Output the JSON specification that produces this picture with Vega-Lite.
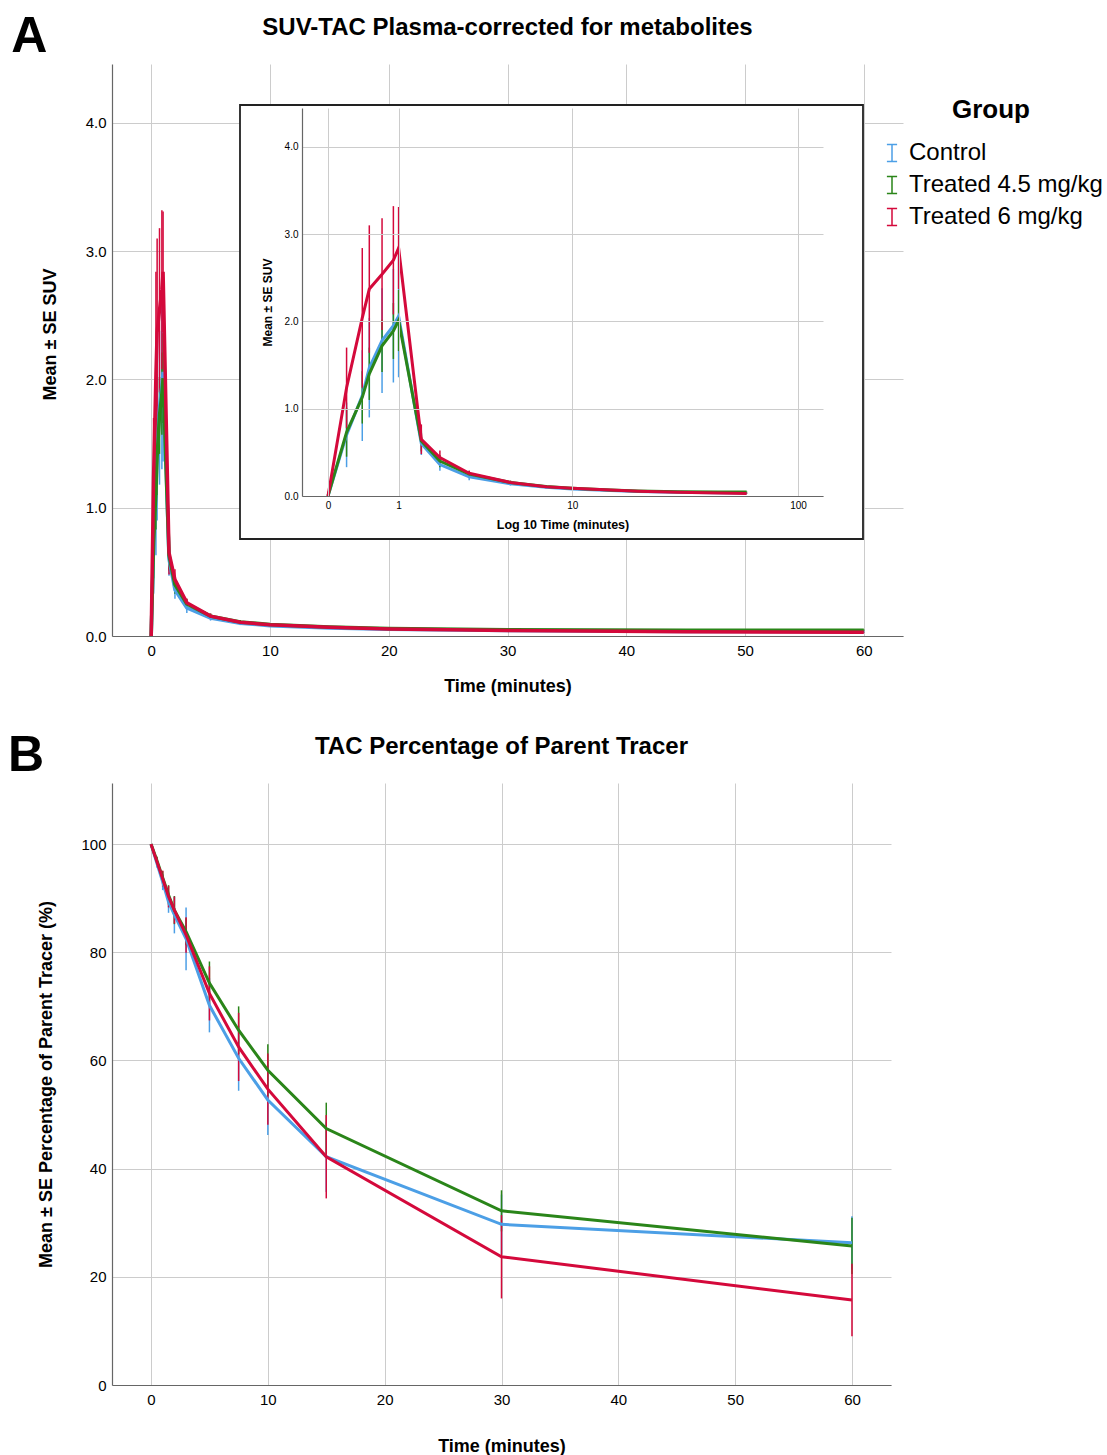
{
  "$schema": "https://vega.github.io/schema/vega-lite/v6.json",
  "background": "white",
  "padding": {"left": 7, "top": 11, "right": 0, "bottom": 0},
  "datasets": {
    "suv": [
      {"group": "Control", "t": 0, "mean": 0, "se": 0},
      {"group": "Control", "t": 0.2, "mean": 0.70, "se": 0.37},
      {"group": "Control", "t": 0.4, "mean": 1.15, "se": 0.52},
      {"group": "Control", "t": 0.5, "mean": 1.47, "se": 0.57},
      {"group": "Control", "t": 0.7, "mean": 1.78, "se": 0.60},
      {"group": "Control", "t": 0.9, "mean": 1.95, "se": 0.65},
      {"group": "Control", "t": 1, "mean": 2.06, "se": 0.70},
      {"group": "Control", "t": 1.5, "mean": 0.60, "se": 0.13},
      {"group": "Control", "t": 2, "mean": 0.36, "se": 0.07},
      {"group": "Control", "t": 3, "mean": 0.22, "se": 0.04},
      {"group": "Control", "t": 5, "mean": 0.14, "se": 0.02},
      {"group": "Control", "t": 7.5, "mean": 0.10, "se": 0.015},
      {"group": "Control", "t": 10, "mean": 0.08, "se": 0.01},
      {"group": "Control", "t": 15, "mean": 0.062, "se": 0.008},
      {"group": "Control", "t": 20, "mean": 0.052, "se": 0.006},
      {"group": "Control", "t": 30, "mean": 0.042, "se": 0.005},
      {"group": "Control", "t": 45, "mean": 0.036, "se": 0.004},
      {"group": "Control", "t": 60, "mean": 0.033, "se": 0.004},
      {"group": "Treated 4.5 mg/kg", "t": 0, "mean": 0, "se": 0},
      {"group": "Treated 4.5 mg/kg", "t": 0.2, "mean": 0.73, "se": 0.28},
      {"group": "Treated 4.5 mg/kg", "t": 0.4, "mean": 1.13, "se": 0.30},
      {"group": "Treated 4.5 mg/kg", "t": 0.5, "mean": 1.40, "se": 0.30},
      {"group": "Treated 4.5 mg/kg", "t": 0.7, "mean": 1.72, "se": 0.30},
      {"group": "Treated 4.5 mg/kg", "t": 0.9, "mean": 1.89, "se": 0.32},
      {"group": "Treated 4.5 mg/kg", "t": 1, "mean": 2.01, "se": 0.35},
      {"group": "Treated 4.5 mg/kg", "t": 1.5, "mean": 0.63, "se": 0.12},
      {"group": "Treated 4.5 mg/kg", "t": 2, "mean": 0.40, "se": 0.07},
      {"group": "Treated 4.5 mg/kg", "t": 3, "mean": 0.25, "se": 0.04},
      {"group": "Treated 4.5 mg/kg", "t": 5, "mean": 0.155, "se": 0.02},
      {"group": "Treated 4.5 mg/kg", "t": 7.5, "mean": 0.11, "se": 0.015},
      {"group": "Treated 4.5 mg/kg", "t": 10, "mean": 0.09, "se": 0.01},
      {"group": "Treated 4.5 mg/kg", "t": 15, "mean": 0.07, "se": 0.008},
      {"group": "Treated 4.5 mg/kg", "t": 20, "mean": 0.058, "se": 0.006},
      {"group": "Treated 4.5 mg/kg", "t": 30, "mean": 0.048, "se": 0.005},
      {"group": "Treated 4.5 mg/kg", "t": 45, "mean": 0.045, "se": 0.005},
      {"group": "Treated 4.5 mg/kg", "t": 60, "mean": 0.045, "se": 0.005},
      {"group": "Treated 6 mg/kg", "t": 0, "mean": 0, "se": 0},
      {"group": "Treated 6 mg/kg", "t": 0.2, "mean": 1.24, "se": 0.46},
      {"group": "Treated 6 mg/kg", "t": 0.4, "mean": 2.04, "se": 0.80},
      {"group": "Treated 6 mg/kg", "t": 0.5, "mean": 2.37, "se": 0.73},
      {"group": "Treated 6 mg/kg", "t": 0.7, "mean": 2.54, "se": 0.64},
      {"group": "Treated 6 mg/kg", "t": 0.9, "mean": 2.70, "se": 0.62},
      {"group": "Treated 6 mg/kg", "t": 1, "mean": 2.84, "se": 0.47},
      {"group": "Treated 6 mg/kg", "t": 1.5, "mean": 0.65, "se": 0.17},
      {"group": "Treated 6 mg/kg", "t": 2, "mean": 0.44, "se": 0.08},
      {"group": "Treated 6 mg/kg", "t": 3, "mean": 0.26, "se": 0.03},
      {"group": "Treated 6 mg/kg", "t": 5, "mean": 0.155, "se": 0.02},
      {"group": "Treated 6 mg/kg", "t": 7.5, "mean": 0.107, "se": 0.012},
      {"group": "Treated 6 mg/kg", "t": 10, "mean": 0.088, "se": 0.01},
      {"group": "Treated 6 mg/kg", "t": 15, "mean": 0.068, "se": 0.008},
      {"group": "Treated 6 mg/kg", "t": 20, "mean": 0.055, "se": 0.006},
      {"group": "Treated 6 mg/kg", "t": 30, "mean": 0.042, "se": 0.005},
      {"group": "Treated 6 mg/kg", "t": 45, "mean": 0.034, "se": 0.004},
      {"group": "Treated 6 mg/kg", "t": 60, "mean": 0.029, "se": 0.004}
    ],
    "pct": [
      {"group": "Control", "t": 0, "mean": 100, "se": 0},
      {"group": "Control", "t": 0.5, "mean": 96.5, "se": 0.8},
      {"group": "Control", "t": 1, "mean": 93.0, "se": 1.5},
      {"group": "Control", "t": 1.5, "mean": 89.3, "se": 2.0},
      {"group": "Control", "t": 2, "mean": 86.9, "se": 3.4},
      {"group": "Control", "t": 3, "mean": 82.5, "se": 5.8},
      {"group": "Control", "t": 5, "mean": 70.2, "se": 5.0},
      {"group": "Control", "t": 7.5, "mean": 60.4, "se": 6.0},
      {"group": "Control", "t": 10, "mean": 52.7, "se": 6.5},
      {"group": "Control", "t": 15, "mean": 42.2, "se": 6.5},
      {"group": "Control", "t": 30, "mean": 29.7, "se": 5.5},
      {"group": "Control", "t": 60, "mean": 26.3, "se": 4.9},
      {"group": "Treated 4.5 mg/kg", "t": 0, "mean": 100, "se": 0},
      {"group": "Treated 4.5 mg/kg", "t": 0.5, "mean": 97.0, "se": 0.7},
      {"group": "Treated 4.5 mg/kg", "t": 1, "mean": 93.8, "se": 1.2},
      {"group": "Treated 4.5 mg/kg", "t": 1.5, "mean": 90.6, "se": 1.8},
      {"group": "Treated 4.5 mg/kg", "t": 2, "mean": 87.8, "se": 2.6},
      {"group": "Treated 4.5 mg/kg", "t": 3, "mean": 83.8, "se": 2.5},
      {"group": "Treated 4.5 mg/kg", "t": 5, "mean": 74.3, "se": 4.0},
      {"group": "Treated 4.5 mg/kg", "t": 7.5, "mean": 65.6, "se": 4.4},
      {"group": "Treated 4.5 mg/kg", "t": 10, "mean": 58.2, "se": 4.8},
      {"group": "Treated 4.5 mg/kg", "t": 15, "mean": 47.4, "se": 4.8},
      {"group": "Treated 4.5 mg/kg", "t": 30, "mean": 32.2, "se": 3.8},
      {"group": "Treated 4.5 mg/kg", "t": 60, "mean": 25.7, "se": 5.2},
      {"group": "Treated 6 mg/kg", "t": 0, "mean": 100, "se": 0},
      {"group": "Treated 6 mg/kg", "t": 0.5, "mean": 96.8, "se": 0.8},
      {"group": "Treated 6 mg/kg", "t": 1, "mean": 93.6, "se": 1.5},
      {"group": "Treated 6 mg/kg", "t": 1.5, "mean": 90.3, "se": 2.0},
      {"group": "Treated 6 mg/kg", "t": 2, "mean": 87.8, "se": 2.5},
      {"group": "Treated 6 mg/kg", "t": 3, "mean": 83.2, "se": 3.3},
      {"group": "Treated 6 mg/kg", "t": 5, "mean": 72.4, "se": 5.0},
      {"group": "Treated 6 mg/kg", "t": 7.5, "mean": 62.5, "se": 6.3},
      {"group": "Treated 6 mg/kg", "t": 10, "mean": 54.7, "se": 6.6},
      {"group": "Treated 6 mg/kg", "t": 15, "mean": 42.2, "se": 7.7},
      {"group": "Treated 6 mg/kg", "t": 30, "mean": 23.7, "se": 7.7},
      {"group": "Treated 6 mg/kg", "t": 60, "mean": 15.7, "se": 6.7}
    ]
  },
  "spacing": 35,
  "vconcat": [
    {
      "title": {"text": "A", "fontSize": 50, "anchor": "start", "frame": "bounds", "offset": -46, "dx": -30, "fontWeight": "bold", "color": "black"},
      "vconcat": [
        {
          "width": 791,
          "height": 572,
          "title": {"text": "SUV-TAC Plasma-corrected for metabolites", "frame": "group", "anchor": "middle", "offset": 24.5},
          "resolve": {"scale": {"x": "independent", "y": "independent"}},
          "layer": [
            {
              "data": {"name": "suv"},
              "encoding": {
                "x": {"field": "t", "type": "quantitative",
                  "scale": {"domain": [-3.3, 63.3], "nice": false, "zero": false},
                  "axis": {"orient": "bottom", "values": [0, 10, 20, 30, 40, 50, 60], "title": "Time (minutes)", "labelFontSize": 15, "titleFontSize": 18, "labelPadding": 7, "titlePadding": 19}},
                "y": {"field": "mean", "type": "quantitative",
                  "scale": {"domain": [0, 4.46], "nice": false},
                  "axis": {"orient": "left", "values": [0, 1, 2, 3, 4], "format": ".1f", "title": "Mean ± SE SUV", "titleY": 270, "labelFontSize": 15, "titleFontSize": 18, "labelPadding": 6, "titlePadding": 26}}
              },
              "layer": [
                {
                  "mark": {"type": "errorbar", "thickness": 1.5},
                  "encoding": {
                    "yError": {"field": "se"},
                    "color": {"field": "group", "type": "nominal", "title": "Group",
                      "scale": {"domain": ["Control", "Treated 4.5 mg/kg", "Treated 6 mg/kg"], "range": ["#4C9FE6", "#2A8519", "#D4093B"]}}
                  }
                },
                {
                  "mark": {"type": "line", "strokeWidth": 3.5},
                  "encoding": {
                    "color": {"field": "group", "type": "nominal", "title": "Group",
                      "scale": {"domain": ["Control", "Treated 4.5 mg/kg", "Treated 6 mg/kg"], "range": ["#4C9FE6", "#2A8519", "#D4093B"]},
                      "legend": {"orient": "none", "legendX": 768, "legendY": 33, "title": "Group", "padding": 0,
                        "titleFontSize": 26, "titleFontWeight": "bold", "titleColor": "black", "titleAnchor": "middle", "titlePadding": 18,
                        "labelFontSize": 24, "labelLimit": 400, "labelColor": "black", "labelOffset": 5, "rowPadding": 8,
                        "symbolType": "M-0.6,-1H0.6M0,-1V1M-0.6,1H0.6", "symbolSize": 289, "symbolStrokeWidth": 1.5}}
                  }
                }
              ]
            },
            {
              "data": {"values": [{}]},
              "mark": {"type": "rect", "fill": "white", "stroke": "#222222", "strokeWidth": 1.8},
              "encoding": {
                "x": {"datum": 0, "type": "quantitative", "scale": {"domain": [0, 1], "range": [128, 751]}, "axis": null},
                "x2": {"datum": 1},
                "y": {"datum": 0, "type": "quantitative", "scale": {"domain": [0, 1], "range": [475, 41]}, "axis": null},
                "y2": {"datum": 1}
              }
            },
            {
              "data": {"name": "suv"},
              "resolve": {"axis": {"x": "independent"}},
              "encoding": {
                "y": {"field": "mean", "type": "quantitative",
                  "scale": {"domain": [0, 4.444], "range": [432, 44], "nice": false},
                  "axis": {"orient": "left", "offset": -190, "zindex": 1, "grid": true, "values": [0, 1, 2, 3, 4], "format": ".1f", "title": "Mean ± SE SUV", "labelFontSize": 10, "titleFontSize": 12, "labelPadding": 4, "titlePadding": 10}}
              },
              "layer": [
                {
                  "mark": {"type": "errorbar", "thickness": 1.5},
                  "encoding": {
                    "x": {"field": "t", "type": "quantitative",
                      "scale": {"type": "symlog", "constant": 1, "domain": [-0.291, 128.1], "range": [190, 711], "nice": false, "zero": false},
                      "axis": {"orient": "top", "zindex": 1, "grid": true, "labels": false, "domain": false, "ticks": false, "title": null, "values": [0, 1, 10, 100]}},
                    "yError": {"field": "se"},
                    "color": {"field": "group", "type": "nominal", "title": "Group",
                      "scale": {"domain": ["Control", "Treated 4.5 mg/kg", "Treated 6 mg/kg"], "range": ["#4C9FE6", "#2A8519", "#D4093B"]}}
                  }
                },
                {
                  "mark": {"type": "line", "strokeWidth": 3},
                  "encoding": {
                    "x": {"field": "t", "type": "quantitative",
                      "scale": {"type": "symlog", "constant": 1, "domain": [-0.291, 128.1], "range": [190, 711], "nice": false, "zero": false},
                      "axis": {"orient": "bottom", "offset": -140, "zindex": 1, "grid": false, "values": [0, 1, 10, 100], "format": "d", "title": "Log 10 Time (minutes)", "labelFontSize": 10, "titleFontSize": 12.5, "labelPadding": 4, "titlePadding": 8}},
                    "color": {"field": "group", "type": "nominal", "title": "Group",
                      "scale": {"domain": ["Control", "Treated 4.5 mg/kg", "Treated 6 mg/kg"], "range": ["#4C9FE6", "#2A8519", "#D4093B"]}}
                  }
                }
              ]
            }
          ]
        }
      ]
    },
    {
      "title": {"text": "B", "fontSize": 50, "anchor": "start", "frame": "bounds", "offset": -46, "dx": -30, "fontWeight": "bold", "color": "black"},
      "vconcat": [
        {
          "width": 779,
          "height": 602,
          "title": {"text": "TAC Percentage of Parent Tracer", "frame": "group", "anchor": "middle", "offset": 24.5},
          "data": {"name": "pct"},
          "encoding": {
            "x": {"field": "t", "type": "quantitative",
              "scale": {"domain": [-3.34, 63.34], "nice": false, "zero": false},
              "axis": {"values": [0, 10, 20, 30, 40, 50, 60], "title": "Time (minutes)", "labelFontSize": 15, "titleFontSize": 18, "labelPadding": 7, "titlePadding": 30}},
            "y": {"field": "mean", "type": "quantitative",
              "scale": {"domain": [0, 111.3], "nice": false},
              "axis": {"values": [0, 20, 40, 60, 80, 100], "title": "Mean ± SE Percentage of Parent Tracer (%)", "labelFontSize": 15, "titleFontSize": 18, "labelPadding": 6, "titlePadding": 25}}
          },
          "layer": [
            {
              "mark": {"type": "errorbar", "thickness": 1.5},
              "encoding": {
                "yError": {"field": "se"},
                "color": {"field": "group", "type": "nominal", "title": "Group",
                  "scale": {"domain": ["Control", "Treated 4.5 mg/kg", "Treated 6 mg/kg"], "range": ["#4C9FE6", "#2A8519", "#D4093B"]}}
              }
            },
            {
              "mark": {"type": "line", "strokeWidth": 3},
              "encoding": {
                "color": {"field": "group", "type": "nominal", "title": "Group",
                  "scale": {"domain": ["Control", "Treated 4.5 mg/kg", "Treated 6 mg/kg"], "range": ["#4C9FE6", "#2A8519", "#D4093B"]}}
              }
            }
          ]
        }
      ]
    }
  ],
  "config": {
    "font": "Liberation Sans",
    "view": {"stroke": null},
    "axis": {"domainColor": "#666666", "domainWidth": 1.2, "gridColor": "#cccccc", "gridWidth": 1, "ticks": false, "labelColor": "black", "titleColor": "black", "labelFont": "Liberation Sans", "titleFont": "Liberation Sans", "titleFontWeight": "bold"},
    "title": {"fontSize": 24, "font": "Liberation Sans", "fontWeight": "bold", "color": "black"},
    "legend": {"labelFont": "Liberation Sans", "titleFont": "Liberation Sans"}
  }
}
